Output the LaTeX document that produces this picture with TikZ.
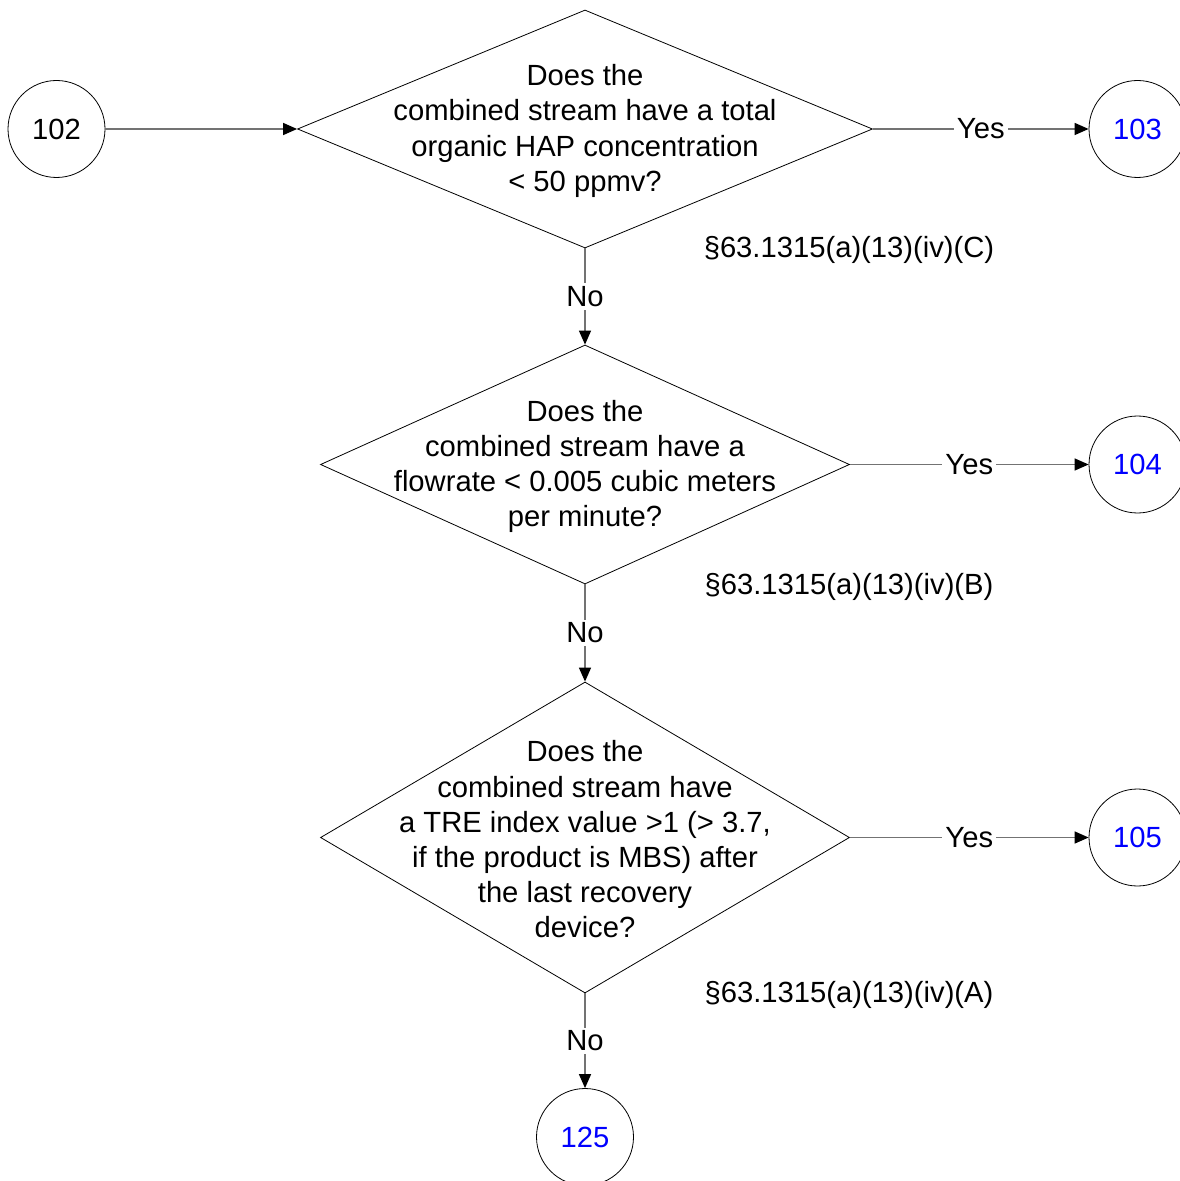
\documentclass[tikz,border=0pt]{standalone}
\usepackage{fontspec}
\setmainfont{Liberation Sans}
\usetikzlibrary{shapes.geometric,arrows.meta}
\begin{document}
\begin{tikzpicture}[
  x=0.5pt, y=-0.5pt,
  every node/.style={font=\fontsize{14.6}{17.6}\selectfont},
  conn/.style={circle, draw, thin, minimum size=48.5pt, inner sep=0pt},
  ask/.style={diamond, draw, thin, inner sep=0pt},
  qtext/.style={align=center, inner sep=0pt, yshift=-1pt},
  arr/.style={-{Triangle[length=7pt,width=6pt,color=black]}, draw=black!55,
              line width=0.7pt},
  lbl/.style={fill=white, inner sep=1.5pt}
]
  \useasboundingbox (0,0) rectangle (1179,1181);

  % Decisions
  \node[ask, minimum width=287.5pt, minimum height=119pt] (q1) at (585,129) {};
  \node[qtext] (t1) at (q1) {Does the\\combined stream have a total\\
    organic HAP concentration\\< 50 ppmv?};
  \node[ask, minimum width=264.5pt, minimum height=119.5pt] (q2) at (585,464.5) {};
  \node[qtext] (t2) at (q2) {Does the\\combined stream have a\\
    flowrate < 0.005 cubic meters\\per minute?};
  \node[ask, minimum width=264.5pt, minimum height=155.5pt] (q3) at (585,837.5) {};
  \node[qtext] (t3) at (q3) {Does the\\combined stream have\\
    a TRE index value >1 (> 3.7,\\if the product is MBS) after\\
    the last recovery\\device?};

  % Connectors
  \node[conn] (c102) at (56.5,129) {102};
  \node[conn, text=blue] (c103) at (1137.5,129) {103};
  \node[conn, text=blue] (c104) at (1137.5,464.5) {104};
  \node[conn, text=blue] (c105) at (1137.5,837.5) {105};
  \node[conn, text=blue] (c125) at (585,1137) {125};

  % Rule references
  \node (r1) at (849,250) {§63.1315(a)(13)(iv)(C)};
  \node (r2) at (849,587) {§63.1315(a)(13)(iv)(B)};
  \node (r3) at (849,995) {§63.1315(a)(13)(iv)(A)};

  % Flow
  \draw[arr] (c102) -- (q1);
  \draw[arr] (q1) -- node[lbl] {Yes} (c103);
  \draw[arr] (q2) -- node[lbl] {Yes} (c104);
  \draw[arr] (q3) -- node[lbl] {Yes} (c105);
  \draw[arr] (q1) -- node[lbl] {No} (q2);
  \draw[arr] (q2) -- node[lbl] {No} (q3);
  \draw[arr] (q3) -- node[lbl] {No} (c125);
\end{tikzpicture}
\end{document}
